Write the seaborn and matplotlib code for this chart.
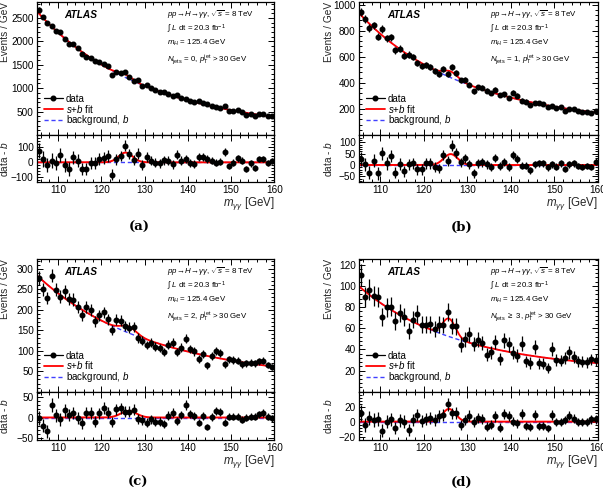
import numpy as np
import matplotlib
matplotlib.use('Agg')
import matplotlib.pyplot as plt
from matplotlib.lines import Line2D
from matplotlib.ticker import AutoMinorLocator, NullFormatter
import seaborn as sns

sns.set_style('ticks')
plt.rcParams['font.family'] = ['Liberation Sans', 'DejaVu Sans']
plt.rcParams['mathtext.fontset'] = 'custom'
plt.rcParams['mathtext.rm'] = 'Liberation Sans'
plt.rcParams['mathtext.it'] = 'Liberation Sans:italic'
plt.rcParams['mathtext.bf'] = 'Liberation Sans:bold'
plt.rcParams['text.color'] = 'black'
plt.rcParams['axes.edgecolor'] = 'black'
plt.rcParams['xtick.color'] = 'black'
plt.rcParams['ytick.color'] = 'black'

# 1 GeV bins between 105 and 160 GeV
mass = np.arange(105.5, 160.0, 1.0)

# data - b
resid_0j = [78, 22, -18, 11, -7, 51, -18, -44, 33, 11, -44, -44, -7, -2, 22,
            31, 42, -82, 20, 42, 111, 55, 15, 58, -18, 35, 11, -2, -7, 15,
            11, -13, 51, 11, 22, -2, -9, 35, 35, 22, 11, -2, 4, 69, -24,
            -2, 27, 11, -42, -7, -40, 22, 22, -4, 7]
resid_1j = [25, 3, -33, 19, -37, 52, 7, 40, -33, 3, -27, 3, 7, -19, -19,
            7, 7, -7, -15, 43, 18, 85, 52, 12, 30, 3, -37, 7, 12, 3,
            -7, 30, -3, 12, -9, 43, 27, -3, -3, -24, 3, 7, 7, -10, 3,
            -7, 7, -18, 3, 7, -3, -10, -3, -10, 15]
resid_2j = [-2, -20, -33, 31, 5, -4, 17, 6, 11, 0, -14, 12, 11, -10, 10,
            23, 11, -11, 20, 22, 14, 14, 19, -3, -6, -13, -4, -10, -10, -16,
            4, 12, -8, 6, 30, 8, 4, -12, 3, -23, 2, 16, 14, -12, 2,
            2, 2, -5, -1, 2, 2, 8, 11, 2, -2]
resid_3j = [12, -5, 5, 2, 4, -12, 0, 3, -8, 2, 0, -11, 2, 9, 1,
            3, 5, 2, 8, 9, 23, 11, 12, -4, 2, 8, 0, 5, 3, -7,
            -4, 7, -8, 10, 7, 0, -2, 10, -6, -7, 9, -6, -6, -9, 9,
            -1, -1, 2, 8, 4, 0, 0, 0, 3, 3]

# background fit read at 105, 132.5 and 160 GeV
bkg_0j = [2650, 960, 385]
bkg_1j = [940, 360, 170]
bkg_2j = [285, 120, 61]
bkg_3j = [100, 44, 27]

# signal peak: mean, width, height
sig_0j = [125.6, 1.6, 65]
sig_1j = [126.2, 1.6, 48]
sig_2j = [126.3, 1.8, 16]
sig_3j = [125.8, 1.5, 17]

jet_labels = ['= 0', '= 1', '= 2', r'$\geq$ 3']
captions = ['(a)', '(b)', '(c)', '(d)']
main_ylims = [(0, 2840), (0, 1021), (0, 324), (0, 125.4)]
main_yticks = [[500, 1000, 1500, 2000, 2500], [200, 400, 600, 800, 1000],
               [50, 100, 150, 200, 250, 300], [20, 40, 60, 80, 100, 120]]
res_ylims = [(-133, 182), (-76, 132), (-54, 62), (-24.5, 40)]
res_yticks = [[-100, 0, 100], [-50, 0, 50, 100], [-50, 0, 50], [-20, 0, 20]]
xticks = [110, 120, 130, 140, 150, 160]

W, H = 603, 492
# pixel boxes of each panel: left, right, top, split, bottom
boxes = [(36.5, 274.3, 2, 135, 182.3), (358.5, 597.7, 2, 135, 182.3),
         (36.5, 274.3, 259, 391.7, 440), (358.5, 597.7, 259, 391.7, 440)]
ylabel_px = [10.5, 334, 10.5, 334]
caption_pos = [(139, 227), (462, 227), (138, 482), (462, 482)]


def bkg_curve(m, anchors):
    coef = np.polyfit([105.0, 132.5, 160.0], np.log(anchors), 2)
    return np.exp(np.polyval(coef, m))


def sig_curve(m, pars):
    mu, width, height = pars
    return height * np.exp(-0.5 * ((m - mu) / width) ** 2)


def style_axis(ax, yticks, ylim):
    ax.set_xlim(105, 160)
    ax.set_ylim(*ylim)
    ax.set_yticks(yticks)
    ax.set_xticks(xticks)
    ax.xaxis.set_minor_locator(AutoMinorLocator(5))
    ax.yaxis.set_minor_locator(AutoMinorLocator(5))
    ax.tick_params(which='both', direction='in', top=True, right=True,
                   labelsize=7.2, width=0.7, pad=2)
    ax.tick_params(which='major', length=4)
    ax.tick_params(which='minor', length=2)
    for s in ax.spines.values():
        s.set_linewidth(0.9)


fig = plt.figure(figsize=(W / 100, H / 100), dpi=100)
m_fine = np.linspace(105, 160, 500)

all_resid = [resid_0j, resid_1j, resid_2j, resid_3j]
all_bkg = [bkg_0j, bkg_1j, bkg_2j, bkg_3j]
all_sig = [sig_0j, sig_1j, sig_2j, sig_3j]

for k in range(4):
    left, right, top, split, bottom = boxes[k]
    ax = fig.add_axes([left / W, 1 - split / H, (right - left) / W, (split - top) / H])
    rax = fig.add_axes([left / W, 1 - bottom / H, (right - left) / W, (bottom - split) / H])
    lab_x = (ylabel_px[k] - left) / (right - left)

    b_bins = bkg_curve(mass, all_bkg[k])
    resid = np.array(all_resid[k], dtype=float)
    data = b_bins + resid
    err = np.sqrt(data)

    b_fine = bkg_curve(m_fine, all_bkg[k])
    s_fine = sig_curve(m_fine, all_sig[k])

    # main panel
    sns.lineplot(x=m_fine, y=b_fine, ax=ax, color='#4040ff', linestyle=(0, (3, 2)), linewidth=1.0)
    sns.lineplot(x=m_fine, y=b_fine + s_fine, ax=ax, color='red', linewidth=1.3)
    ax.errorbar(mass, data, yerr=err, fmt='o', color='black', ms=3.3,
                elinewidth=0.9, capsize=0, zorder=5)
    style_axis(ax, main_yticks[k], main_ylims[k])
    ax.xaxis.set_major_formatter(NullFormatter())
    ax.set_xlabel('')
    ax.set_ylabel('Events / GeV', fontsize=7.3, loc='top')
    ax.yaxis.set_label_coords(lab_x, 1.0)

    ax.text(0.118, 0.902, 'ATLAS', transform=ax.transAxes, fontsize=7.3,
            fontweight='bold', style='italic', va='center')
    ann = [r'$pp\!\rightarrow\!H\!\rightarrow\!\gamma\gamma$, $\sqrt{s}$ = 8 TeV',
           r'$\int$ $L$ dt = 20.3 fb$^{-1}$',
           r'$m_H$ = 125.4 GeV',
           r'$N_{\rm jets}$ ' + jet_labels[k] + r', $p_{\rm T}^{\rm jet}$ > 30 GeV']
    for line, yy in zip(ann, [0.902, 0.797, 0.691, 0.567]):
        ax.text(0.548, yy, line, transform=ax.transAxes, fontsize=5.7, va='center')

    handles = [Line2D([], [], color='black', marker='o', ms=3.3, lw=0.9),
               Line2D([], [], color='red', lw=1.3),
               Line2D([], [], color='#4040ff', lw=1.0, linestyle=(0, (3, 2)))]
    ax.legend(handles, ['data', r'$s$+$b$ fit', r'background, $b$'],
              loc='upper left', bbox_to_anchor=(0.03, 0.31), frameon=False,
              fontsize=7.0, handlelength=2.0, handletextpad=0.3,
              labelspacing=-0.12, borderaxespad=0, borderpad=0)

    # residual panel
    sns.lineplot(x=m_fine, y=np.zeros_like(m_fine), ax=rax, color='#4040ff',
                 linestyle=(0, (3, 2)), linewidth=1.0)
    sns.lineplot(x=m_fine, y=s_fine, ax=rax, color='red', linewidth=1.4)
    rax.errorbar(mass, resid, yerr=err, fmt='o', color='black', ms=3.3,
                 elinewidth=0.9, capsize=0, zorder=5)
    style_axis(rax, res_yticks[k], res_ylims[k])
    rax.set_ylabel(r'data - $b$', fontsize=7.3)
    rax.yaxis.set_label_coords(lab_x, 0.5)
    rax.set_xlabel(r'$m_{\gamma\gamma}$ [GeV]', fontsize=8.3, loc='right')
    rax.xaxis.set_label_coords(1.0, -0.27)

    fig.text(caption_pos[k][0] / W, 1 - caption_pos[k][1] / H, captions[k],
             fontsize=9.5, fontweight='bold', family='DejaVu Serif',
             ha='center', va='center')

fig.savefig('out.png', dpi=100)
